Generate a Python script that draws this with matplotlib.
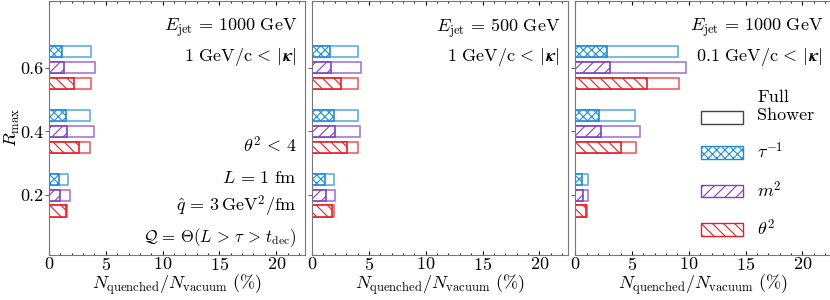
import numpy as np
import matplotlib
matplotlib.use('Agg')
import matplotlib.pyplot as plt
from matplotlib.patches import Patch, Rectangle
from matplotlib.legend_handler import HandlerPatch

plt.rcParams['font.family'] = 'serif'
plt.rcParams['font.serif'] = ['cmr10']
plt.rcParams['mathtext.fontset'] = 'cm'
plt.rcParams['axes.formatter.use_mathtext'] = True
plt.rcParams['hatch.linewidth'] = 0.8
plt.rcParams['font.size'] = 13

# R_max values (y categories)
r_max = [0.2, 0.4, 0.6]
observables = ['tau', 'm2', 'theta2']
obs_labels = [r'$\tau^{-1}$', r'$m^2$', r'$\theta^2$']

# Panel 1: E_jet = 1000 GeV, 1 GeV/c < |kappa|
p1_full = {'tau': [1.64, 3.60, 3.72], 'm2': [1.81, 3.96, 4.08], 'theta2': [1.58, 3.60, 3.69]}
p1_quen = {'tau': [0.92, 1.46, 1.19], 'm2': [1.01, 1.55, 1.28], 'theta2': [1.52, 2.65, 2.23]}
# Panel 2: E_jet = 500 GeV, 1 GeV/c < |kappa|
p2_full = {'tau': [1.89, 4.00, 4.02], 'm2': [2.00, 4.25, 4.34], 'theta2': [1.89, 4.02, 4.04]}
p2_quen = {'tau': [1.18, 1.95, 1.60], 'm2': [1.24, 2.04, 1.65], 'theta2': [1.72, 3.04, 2.57]}
# Panel 3: E_jet = 1000 GeV, 0.1 GeV/c < |kappa|
p3_full = {'tau': [1.11, 5.30, 9.04], 'm2': [1.17, 5.74, 9.77], 'theta2': [1.05, 5.32, 9.10]}
p3_quen = {'tau': [0.59, 2.08, 2.81], 'm2': [0.67, 2.23, 3.04], 'theta2': [0.94, 4.00, 6.29]}

kappa = '\U0001D73F'  # bold italic kappa
panel_titles = [
    [r'$E_{\rm jet}\,=\,1000\ \mathrm{GeV}$', r'$1\ \mathrm{GeV/c}\,<\,|' + kappa + '|$'],
    [r'$E_{\rm jet}\,=\,500\ \mathrm{GeV}$', r'$1\ \mathrm{GeV/c}\,<\,|' + kappa + '|$'],
    [r'$E_{\rm jet}\,=\,1000\ \mathrm{GeV}$', r'$0.1\ \mathrm{GeV/c}\,<\,|' + kappa + '|$'],
]
param_lines = [r'$\theta^2\,<\,4$', r'$L\,=\,1\ \mathrm{fm}$',
               r'$\hat{q}\,=\,3\,\mathrm{GeV}^2/\mathrm{fm}$',
               r'$\mathcal{Q}\,=\,\Theta(L\,>\,\tau\,>\,t_{\rm dec})$']
param_sizes = [13, 13, 13, 12]

colors = {'tau': '#1a8ee0', 'm2': '#7f40c4', 'theta2': '#ec1c22'}
hatches = {'tau': 'xxxx', 'm2': '///', 'theta2': '\\\\\\'}
offsets = {'tau': 0.05, 'm2': 0.0, 'theta2': -0.05}
bar_h = 0.035

fig = plt.figure(figsize=(8.3, 3.0), dpi=100)
lefts = [0.059, 0.376, 0.693]
axes = [fig.add_axes([l, 0.15, 0.308, 0.847]) for l in lefts]

panels = [(p1_full, p1_quen), (p2_full, p2_quen), (p3_full, p3_quen)]
for ax, (full, quen), titles in zip(axes, panels, panel_titles):
    y = np.array(r_max)
    for obs in observables:
        c = colors[obs]
        ax.barh(y + offsets[obs], full[obs], height=bar_h, facecolor='none',
                edgecolor=c, alpha=0.7, linewidth=1.2)
        ax.barh(y + offsets[obs], quen[obs], height=bar_h, facecolor='white',
                edgecolor=c, hatch=hatches[obs], linewidth=1.2)
    ax.set_xlim(0, 22.5)
    ax.set_ylim(0.012, 0.81)
    ax.set_yticks(r_max)
    ax.set_xticks([0, 5, 10, 15, 20])
    ax.set_xticks(np.arange(0, 23, 1), minor=True)
    ax.tick_params(axis='x', which='both', direction='in', top=True, length=3, pad=1)
    ax.tick_params(axis='x', which='minor', length=1.5)
    ax.tick_params(axis='y', direction='out', length=3, pad=1, color='#666666')
    ax.set_xlabel(r'$N_{\rm quenched}/N_{\rm vacuum}\ (\%)$', labelpad=-1)
    for sp in ax.spines.values():
        sp.set_color('#777777')
    ax.text(0.97, 0.895, titles[0], transform=ax.transAxes, ha='right', va='center')
    ax.text(0.97, 0.78, titles[1], transform=ax.transAxes, ha='right', va='center')

axes[0].set_yticklabels(['0.2', '0.4', '0.6'])
axes[0].set_ylabel(r'$R_{\rm max}$')
axes[0].yaxis.set_label_coords(-0.105, 0.5)
for ax in axes[1:]:
    ax.set_yticklabels([])

for yy, txt, fs in zip([0.431, 0.302, 0.192, 0.067], param_lines, param_sizes):
    axes[0].text(0.97, yy, txt, transform=axes[0].transAxes, ha='right', va='center',
                 fontsize=fs)


def lowered_box(legend, orig_handle, xdescent, ydescent, width, height, fontsize):
    # put the "Full Shower" box next to the second line of its label
    return Rectangle((-xdescent, -ydescent - 8), width, height)


handles = [Patch(facecolor='white', edgecolor='#444444', label='Full\nShower')]
for obs, lab in zip(observables, obs_labels):
    handles.append(Patch(facecolor='white', edgecolor=colors[obs], hatch=hatches[obs], label=lab))
axes[2].legend(handles=handles, loc='lower right', bbox_to_anchor=(1.0, 0.0),
               frameon=False, handlelength=2.3, handleheight=0.7, labelspacing=1.0,
               handletextpad=0.8,
               handler_map={handles[0]: HandlerPatch(patch_func=lowered_box)})

fig.savefig('out.png', dpi=100)
